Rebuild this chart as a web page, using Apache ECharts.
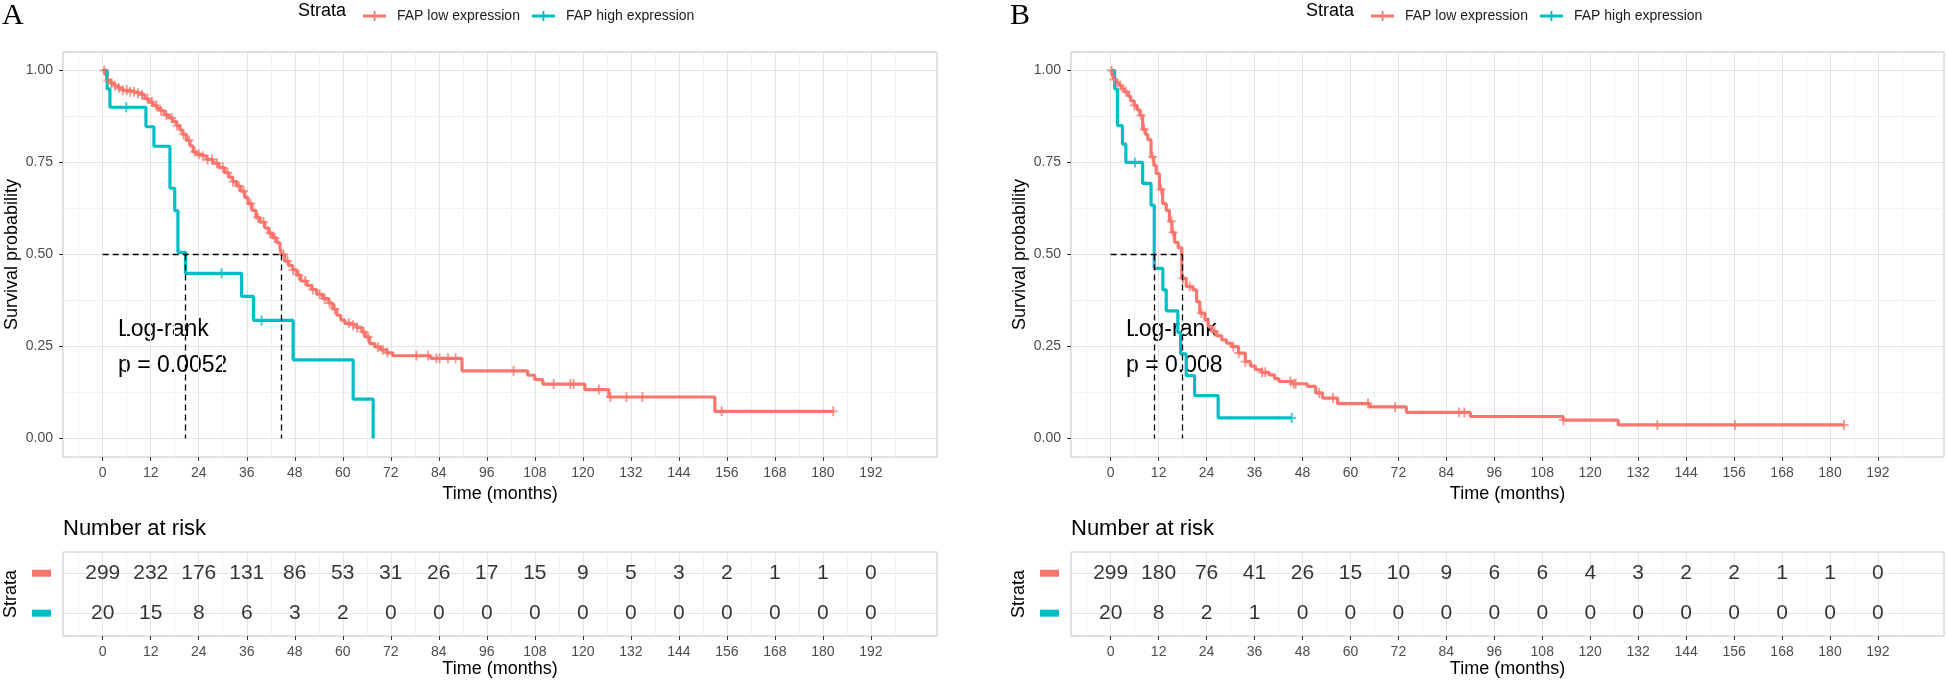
<!DOCTYPE html>
<html>
<head>
<meta charset="utf-8">
<script src="https://cdn.jsdelivr.net/npm/echarts@6/dist/echarts.min.js"></script>
<style>
html, body { margin: 0; padding: 0; background: #fff; }
#chart { width: 1946px; height: 683px; }
</style>
</head>
<body>
<div id="chart"></div>
<script>
// axis breaks (months / probability)
var timeBreaks = [0, 12, 24, 36, 48, 60, 72, 84, 96, 108, 120, 132, 144, 156, 168, 180, 192];
var minorTimeBreaks = [-6, 6, 18, 30, 42, 54, 66, 78, 90, 102, 114, 126, 138, 150, 162, 174, 186, 198];
var survBreaks = [0, 0.25, 0.5, 0.75, 1];
var minorSurvBreaks = [0.125, 0.375, 0.625, 0.875];
var strataNames = ["FAP low expression", "FAP high expression"];

// ---- panel A ----
var kmA_low = [[0,1],[0.5,0.99],[1,0.973],[2,0.965],[3,0.958],[4,0.952],[5,0.946],[6.5,0.942],[8,0.938],[9.5,0.933],
  [10.5,0.923],[11.5,0.914],[12.5,0.905],[13.5,0.897],[14.5,0.89],[15.5,0.879],[16.5,0.871],[17.5,0.861],[18.5,0.85],
  [19.3,0.838],[20,0.826],[20.9,0.81],[21.8,0.795],[22.6,0.779],[23.5,0.772],[24.5,0.767],[26,0.758],[27.5,0.748],
  [29,0.736],[30.5,0.722],[31.5,0.71],[32.5,0.698],[33.5,0.686],[34.5,0.672],[35.5,0.655],[36.3,0.638],[37.3,0.62],
  [38.3,0.6],[39.3,0.588],[40.5,0.572],[41.5,0.558],[42.5,0.545],[43.5,0.532],[44.3,0.518],[44.7,0.5],[45.5,0.482],
  [46.5,0.47],[47.5,0.458],[48.5,0.444],[49.5,0.428],[51,0.416],[52.2,0.405],[53.5,0.392],[55,0.38],[56.5,0.368],
  [57.5,0.352],[58.5,0.335],[59.5,0.322],[60.5,0.313],[62,0.308],[63.5,0.302],[64.8,0.29],[65.6,0.276],[66.7,0.258],
  [68,0.249],[69.5,0.241],[71,0.233],[72.5,0.225],[82,0.218],[89.8,0.184],[106.2,0.172],[108,0.16],[110,0.148],
  [120.5,0.133],[126.5,0.113],[153,0.074],[182.6,0.074]];
var kmA_high = [[0,1],[1.1,0.95],[1.8,0.9],[10.8,0.847],[12.8,0.794],[16.8,0.68],[18,0.619],[18.8,0.506],[20.7,0.449],
  [34.7,0.386],[37.7,0.321],[47.6,0.214],[62.6,0.107],[67.6,0]];
var censA_low = [0.4,1.3,2.2,3.1,4.0,5.0,6.0,6.9,7.8,8.8,9.8,11.2,12.3,13.4,14.6,15.9,17.2,18.6,20.2,21.6,23.0,24.0,
  25.0,26.2,27.3,28.5,30.0,31.2,32.6,34.0,35.2,37.0,38.8,40.2,41.8,43.0,45.2,46.2,47.6,49.0,50.6,52.5,54.2,55.5,56.7,
  58.0,61.5,62.6,63.6,65.2,66.3,68.8,70.0,71.2,78.4,81.3,83.4,84.2,86.3,88.2,102.7,112.7,116.9,117.7,124,126.9,130.9,
  134.9,154.7,182.6];
var censA_high = [5.9, 29.7, 39.7];
var medianA = [20.7, 44.7];
var pTextA = "p = 0.0052";
var riskA_low = [299, 232, 176, 131, 86, 53, 31, 26, 17, 15, 9, 5, 3, 2, 1, 1, 0];
var riskA_high = [20, 15, 8, 6, 3, 2, 0, 0, 0, 0, 0, 0, 0, 0, 0, 0, 0];

// ---- panel B ----
var kmB_low = [[0,1],[0.4,0.99],[0.8,0.975],[1.5,0.966],[2.1,0.959],[2.8,0.95],[3.4,0.942],[4.4,0.93],[5,0.917],
  [5.9,0.905],[6.6,0.893],[7.3,0.878],[8,0.84],[8.7,0.826],[9.3,0.812],[10.1,0.765],[10.8,0.742],[11.4,0.72],
  [12.2,0.677],[13,0.638],[13.9,0.62],[14.7,0.59],[15.3,0.56],[16,0.533],[16.9,0.518],[17.8,0.435],[18.9,0.413],
  [20.6,0.404],[21.5,0.372],[22.3,0.341],[23.6,0.322],[24.4,0.305],[25.3,0.291],[26.5,0.279],[27.8,0.268],[29,0.259],
  [30.3,0.25],[32,0.232],[33.7,0.209],[35,0.197],[36.2,0.187],[37.8,0.18],[39.6,0.173],[41,0.163],[42.1,0.155],
  [45.5,0.149],[49.2,0.142],[51.3,0.124],[53,0.11],[56.8,0.095],[64.8,0.086],[74,0.071],[90,0.06],[113.2,0.05],
  [127,0.037],[183.5,0.037]];
var kmB_high = [[0,1],[1,0.95],[1.7,0.85],[2.95,0.8],[3.8,0.75],[8,0.693],[10.1,0.634],[10.9,0.4625],[13.05,0.404],
  [13.9,0.347],[16.8,0.288],[17.5,0.23],[18.9,0.171],[21,0.1165],[26.9,0.056],[45.3,0.056]];
var censB_low = [0.2,0.8,2.4,3.8,5.9,7.6,8.4,10.5,12.6,15.2,15.6,18.1,19.8,22.7,26,30.7,32,33.7,37.9,38.7,45,45.8,
  46.3,52.2,55.6,64.4,71.2,87.2,88.5,113.3,136.8,156.2,183.5];
var censB_high = [6.06, 45.3];
var medianB = [10.9, 17.8];
var pTextB = "p = 0.008";
var riskB_low = [299, 180, 76, 41, 26, 15, 10, 9, 6, 6, 4, 3, 2, 2, 1, 1, 0];
var riskB_high = [20, 8, 2, 1, 0, 0, 0, 0, 0, 0, 0, 0, 0, 0, 0, 0, 0];

var RED = "#F8766D", CYAN = "#00BFC4";
var FONT = '"Liberation Sans", Arial, sans-serif';
var X_MIN = -9.93, X_MAX = 208.53;
var plusIcon = "path://M0,4.1H9V5.9H0Z M3.6,0H5.4V10H3.6Z";
var legendIcon = "path://M0,3.6H23V6.4H0Z M10.6,0H12.4V10H10.6Z";

function stepAt(km, t) {
  var v = km[0][1];
  for (var i = 0; i < km.length; i++) {
    if (km[i][0] <= t) v = km[i][1];
  }
  return v;
}

var chart = echarts.init(document.getElementById("chart"));

var grids = [], xAxes = [], yAxes = [], series = [], graphics = [], legends = [];

function buildPanel(left, width, label, km, cens, med, pText, risk) {
  var gMain = grids.length, gRisk = gMain + 1;
  grids.push({ left: left, top: 52, width: width, height: 405, show: true, borderColor: "#c4c4c4", borderWidth: 1, outerBoundsMode: "none" });
  grids.push({ left: left, top: 552, width: width, height: 84, show: true, borderColor: "#c4c4c4", borderWidth: 1, outerBoundsMode: "none" });

  [gMain, gRisk].forEach(function (g) {
    xAxes.push({
      type: "value", gridIndex: g, min: X_MIN, max: X_MAX, position: "bottom",
      name: "Time (months)", nameLocation: "middle", nameGap: g === gMain ? 26 : 24,
      nameTextStyle: { fontSize: 18, color: "#000", fontFamily: FONT },
      axisLine: { show: false, onZero: false },
      axisTick: { show: true, length: 4, customValues: timeBreaks, lineStyle: { color: "#333" } },
      axisLabel: { customValues: timeBreaks, margin: 9, fontSize: 14, color: "#4d4d4d", fontFamily: FONT },
      splitLine: { show: true, lineStyle: { color: "#e4e4e4", width: 1 } }
    });
  });
  var xMain = xAxes.length - 2, xRisk = xAxes.length - 1;
  [gMain, gRisk].forEach(function (g) {
    xAxes.push({
      type: "value", gridIndex: g, min: X_MIN, max: X_MAX, position: "bottom",
      axisLine: { show: false, onZero: false },
      axisTick: { show: false, customValues: minorTimeBreaks },
      axisLabel: { show: false, customValues: minorTimeBreaks },
      splitLine: { show: true, lineStyle: { color: "#f1f1f1", width: 1 } }
    });
  });

  yAxes.push({
    type: "value", gridIndex: gMain, min: -0.05, max: 1.05, position: "left",
    name: "Survival probability", nameLocation: "middle", nameGap: 42,
    nameTextStyle: { fontSize: 18, color: "#000", fontFamily: FONT },
    axisLine: { show: false, onZero: false },
    axisTick: { show: true, length: 4, customValues: survBreaks, lineStyle: { color: "#333" } },
    axisLabel: { customValues: survBreaks, margin: 10, fontSize: 14, color: "#4d4d4d", fontFamily: FONT,
      formatter: function (v) { return v.toFixed(2); } },
    splitLine: { show: true, lineStyle: { color: "#e4e4e4", width: 1 } }
  });
  var yMain = yAxes.length - 1;
  yAxes.push({
    type: "value", gridIndex: gMain, min: -0.05, max: 1.05, position: "left",
    axisLine: { show: false, onZero: false },
    axisTick: { show: false, customValues: minorSurvBreaks },
    axisLabel: { show: false, customValues: minorSurvBreaks },
    splitLine: { show: true, lineStyle: { color: "#f1f1f1", width: 1 } }
  });
  yAxes.push({
    type: "value", gridIndex: gRisk, min: 0.43, max: 2.53, position: "left",
    name: "Strata", nameLocation: "middle", nameGap: 43,
    nameTextStyle: { fontSize: 18, color: "#000", fontFamily: FONT },
    axisLine: { show: false, onZero: false },
    axisTick: { show: false, customValues: [1, 2] },
    axisLabel: { customValues: [1, 2], margin: 12,
      formatter: function (v) { return v > 1.5 ? "{r| }" : "{c| }"; },
      rich: { r: { backgroundColor: RED, width: 19, height: 7, fontSize: 1 },
              c: { backgroundColor: CYAN, width: 19, height: 7, fontSize: 1 } } },
    splitLine: { show: true, lineStyle: { color: "#e4e4e4", width: 1 } }
  });
  var yRisk = yAxes.length - 1;

  var colors = [RED, CYAN];
  km.forEach(function (curve, s) {
    var line = {
      name: strataNames[s], type: "line", step: "end", xAxisIndex: xMain, yAxisIndex: yMain,
      data: curve, showSymbol: false, symbol: "none", z: 3,
      color: colors[s], lineStyle: { width: 3.2, color: colors[s] }
    };
    if (s === 0) {
      line.markLine = {
        silent: true, symbol: ["none", "none"], label: { show: false }, z: 6,
        lineStyle: { type: [6, 4], color: "#000", width: 1.3 },
        data: [
          [{ coord: [0, 0.5] }, { coord: [Math.max(med[0], med[1]), 0.5] }],
          [{ coord: [med[0], 0.5] }, { coord: [med[0], 0] }],
          [{ coord: [med[1], 0.5] }, { coord: [med[1], 0] }]
        ]
      };
    }
    series.push(line);
    series.push({
      name: strataNames[s], type: "scatter", xAxisIndex: xMain, yAxisIndex: yMain, z: 4,
      symbol: plusIcon, symbolSize: [9, 10], itemStyle: { color: colors[s] },
      data: cens[s].map(function (t) { return [t, stepAt(curve, t)]; })
    });
  });

  risk.forEach(function (row, s) {
    series.push({
      name: "risk " + strataNames[s], type: "scatter", xAxisIndex: xRisk, yAxisIndex: yRisk,
      symbolSize: 1, itemStyle: { color: "rgba(0,0,0,0)" },
      label: { show: true, position: "inside", fontSize: 21, color: "#000", fontFamily: FONT,
        formatter: function (p) { return p.value[2]; } },
      data: row.map(function (v, i) { return [timeBreaks[i], s === 0 ? 2 : 1, v]; })
    });
  });

  legends.push({
    left: left + 295, top: 4, itemWidth: 23, itemHeight: 10, itemGap: 12,
    selectedMode: false,
    textStyle: { fontSize: 14, color: "#1a1a1a", fontFamily: FONT, padding: [0, 0, 0, 6] },
    data: strataNames.map(function (n) { return { name: n, icon: legendIcon }; })
  });

  graphics.push({ type: "text", x: left - 61, y: 1, style: { text: label, font: '30px "Liberation Serif", serif', fill: "#000" } });
  graphics.push({ type: "text", x: left + 235, y: 11, style: { text: "Strata", font: "18px " + FONT, fill: "#000", verticalAlign: "middle" } });
  graphics.push({ type: "text", x: left, y: 529, style: { text: "Number at risk", font: "22px " + FONT, fill: "#000", verticalAlign: "middle" } });
  graphics.push({ type: "text", x: left + 55, y: 330, style: { text: "Log-rank", font: "23px " + FONT, fill: "#000", verticalAlign: "middle" } });
  graphics.push({ type: "text", x: left + 55, y: 366, style: { text: pText, font: "23px " + FONT, fill: "#000", verticalAlign: "middle" } });
}

buildPanel(63, 874, "A", [kmA_low, kmA_high], [censA_low, censA_high], medianA, pTextA, [riskA_low, riskA_high]);
buildPanel(1071, 873, "B", [kmB_low, kmB_high], [censB_low, censB_high], medianB, pTextB, [riskB_low, riskB_high]);

chart.setOption({
  animation: false,
  backgroundColor: "#fff",
  grid: grids,
  xAxis: xAxes,
  yAxis: yAxes,
  legend: legends,
  graphic: graphics,
  series: series
});
</script>
</body>
</html>
